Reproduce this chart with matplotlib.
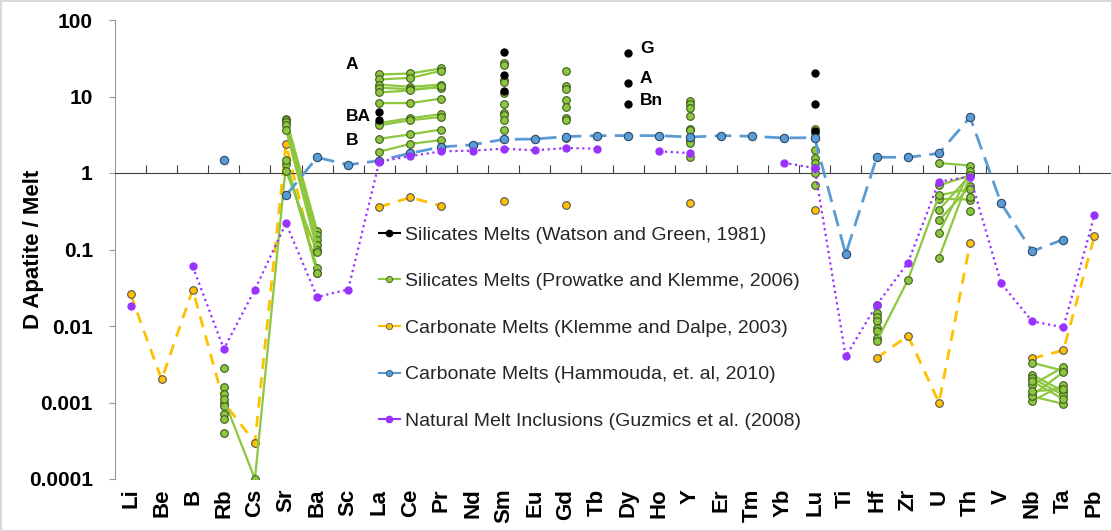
import numpy as np
import matplotlib.pyplot as plt
from matplotlib.lines import Line2D
from matplotlib.ticker import NullLocator

plt.rcParams['font.family'] = ['Liberation Sans', 'DejaVu Sans']

nan = np.nan
elements = ['Li', 'Be', 'B', 'Rb', 'Cs', 'Sr', 'Ba', 'Sc', 'La', 'Ce', 'Pr', 'Nd',
            'Sm', 'Eu', 'Gd', 'Tb', 'Dy', 'Ho', 'Y', 'Er', 'Tm', 'Yb', 'Lu', 'Ti',
            'Hf', 'Zr', 'U', 'Th', 'V', 'Nb', 'Ta', 'Pb']

# Klemme and Dalpe (2003), carbonate melts
klemme_dalpe = [0.026, 0.002, 0.03, 0.001, 0.0003, 2.4, 0.05, nan,
                0.36, 0.48, 0.37, nan, 0.43, nan, 0.38, nan,
                nan, nan, 0.40, nan, nan, nan, 0.33, nan,
                0.0038, 0.0075, 0.001, 0.12, nan, 0.0038, 0.0048, 0.15]

# Hammouda et al. (2010), carbonate melts
hammouda = [nan, nan, nan, 1.5, nan, 0.51, 1.6, 1.28,
            1.45, 1.82, 2.19, 2.34, 2.75, 2.78, 2.99, 3.08,
            3.08, 3.08, 2.95, 3.08, 3.02, 2.87, 2.9, 0.087,
            1.61, 1.6, 1.81, 5.36, 0.40, 0.095, 0.135, nan]

# Guzmics et al. (2008), natural melt inclusions
guzmics = [0.018, nan, 0.06, 0.005, 0.03, 0.22, 0.024, 0.03,
           1.41, 1.66, 1.92, 1.96, 2.08, 1.98, 2.12, 2.08,
           nan, 1.92, 1.82, nan, nan, 1.36, 1.16, 0.004,
           0.019, 0.067, 0.77, 0.9, 0.036, 0.0115, 0.0096, 0.28]

# Watson and Green (1981), silicate melts
watson_green = {
    'La': [6.3, 4.9],
    'Sm': [37.8, 19.0, 11.8],
    'Dy': [36.6, 15.1, 8.1],
    'Lu': [20.0, 8.1, 3.5],
}

# Prowatke and Klemme (2006), silicate melts: one entry per run
prowatke = {
    'Rb': [0.0016, 0.0013, 0.0009, 0.0011, 0.0007, 0.0028, 0.0006, 0.0004, nan, nan],
    'Cs': [nan, nan, nan, 0.0001, nan, nan, nan, nan, nan, nan],
    'Sr': [5.15, 4.9, 4.65, 1.3, 4.2, 3.7, 1.49, 1.06, nan, nan],
    'Ba': [0.177, 0.155, 0.134, 0.058, 0.116, 0.099, 0.049, 0.092, nan, nan],
    'La': [19.4, 16.7, 14.3, 13.0, 11.3, 8.2, 4.5, 4.2, 2.8, 1.9],
    'Ce': [20.0, 17.5, 13.4, 12.5, 12.0, 8.2, 5.2, 4.9, 3.2, 2.4],
    'Pr': [23.3, 21.7, 14.3, 13.1, 13.6, 9.4, 5.9, 5.4, 3.7, 2.7],
    'Sm': [27.6, 25.7, 16.4, 15.6, 11.1, 8.1, 6.1, 5.7, 5.0, 3.6],
    'Gd': [21.7, 13.6, 12.7, 8.9, 7.2, 5.3, 4.9, 2.9, nan, nan],
    'Y':  [8.7, 8.1, 7.0, 5.6, 3.8, 3.6, 2.95, 2.73, 2.47, 1.61],
    'Lu': [3.8, 3.3, 2.86, 2.0, 1.58, 1.35, 1.15, 1.0, 0.69, nan],
    'Hf': [0.019, 0.015, 0.013, 0.0115, 0.0095, 0.0085, 0.0069, 0.0063, nan, nan],
    'Zr': [nan, nan, nan, nan, nan, nan, nan, 0.04, nan, nan],
    'U':  [1.35, 0.69, 0.46, 0.33, 0.24, 0.165, 0.078, 0.51, nan, nan],
    'Th': [1.25, 0.93, 0.45, 0.93, 0.67, 1.06, 0.93, 0.62, 0.48, 0.32],
    'Nb': [0.0033, 0.0023, 0.0021, 0.0017, 0.00124, 0.00105, 0.0012, 0.0019, 0.0014, nan],
    'Ta': [0.0026, 0.0014, 0.00124, 0.0029, 0.0025, 0.0017, 0.00096, 0.0011, 0.0015, nan],
}

labels = ['Silicates Melts (Watson and Green, 1981)',
          'Silicates Melts (Prowatke and Klemme, 2006)',
          'Carbonate Melts (Klemme and Dalpe, 2003)',
          'Carbonate Melts (Hammouda, et. al, 2010)',
          'Natural Melt Inclusions (Guzmics et al. (2008)']

GREEN = '#8DC63F'
ORANGE = '#FFC000'
BLUE = '#5B9BD5'
PURPLE = '#9933FF'

x = np.arange(len(elements))
idx = {e: i for i, e in enumerate(elements)}

fig = plt.figure(figsize=(11.12, 5.31), dpi=100)
fig.patch.set_edgecolor('#d9d9d9')
fig.patch.set_linewidth(2)
ax = fig.add_axes([115 / 1112, 1 - 479 / 531, 995 / 1112, 459 / 531])
ax.set_yscale('log')
ax.set_ylim(1e-4, 100)
ax.set_xlim(-0.5, len(elements) - 0.5)

# carbonate melts, Klemme and Dalpe
ax.plot(x, klemme_dalpe, color=ORANGE, lw=2, ls=(0, (4, 3)), marker='o', ms=5.5,
        mfc=ORANGE, mec='#555555', mew=0.8, zorder=2)

# Prowatke and Klemme runs
n_runs = len(prowatke['La'])
runs = np.full((n_runs, len(elements)), np.nan)
for el, vals in prowatke.items():
    runs[:, idx[el]] = vals
for row in runs:
    ax.plot(x, row, color=GREEN, lw=1.6, marker='o', ms=5.5, mfc=GREEN,
            mec='#3d5c1e', mew=0.8, zorder=3)

# Watson and Green points
for el, vals in watson_green.items():
    ax.plot([idx[el]] * len(vals), vals, ls='none', marker='o', ms=5,
            color='black', zorder=4)

ax.plot(x, hammouda, color=BLUE, lw=2, ls=(0, (6, 3)), marker='o', ms=6,
        mfc=BLUE, mec='#2c4a66', mew=0.8, zorder=5)
ax.plot(x, guzmics, color=PURPLE, lw=1.6, ls=(0, (1, 1.6)), marker='o', ms=5,
        mfc=PURPLE, mec=PURPLE, zorder=6)

# sample labels beside the Watson and Green points
for txt, yv in zip(['A', 'BA', 'B'], [26.5, 5.5, 2.7]):
    ax.text(idx['La'] - 1.07, yv, txt, ha='left', va='center',
            fontsize=12.5, fontweight='bold')
for txt, yv in zip(['G', 'A', 'Bn'], [43, 17.4, 8.9]):
    ax.text(idx['Dy'] + 0.38, yv, txt, ha='left', va='center',
            fontsize=12.5, fontweight='bold')

# axes styling
for s in ['top', 'right']:
    ax.spines[s].set_visible(False)
ax.spines['left'].set_color('#999999')
ax.spines['bottom'].set_position(('data', 1))
ax.spines['bottom'].set_color('#404040')
ax.set_xticks(np.arange(0.5, len(elements) - 0.5, 1))
ax.set_xticklabels([])
ax.tick_params(axis='x', direction='in', length=6, color='#404040')

yt = [1e-4, 1e-3, 1e-2, 1e-1, 1, 10, 100]
ax.set_yticks(yt, ['0.0001', '0.001', '0.01', '0.1', '1', '10', '100'])
ax.yaxis.set_minor_locator(NullLocator())
ax.tick_params(axis='y', labelsize=15, length=4, pad=12, color='#999999')
for t in ax.get_yticklabels():
    t.set_fontweight('bold')
ax.set_ylabel('D Apatite / Melt', fontsize=16, fontweight='bold')
ax.yaxis.set_label_coords(-0.0714, 0.5)

sec = ax.secondary_xaxis(0)
sec.set_xticks(x, elements, rotation=90, fontsize=16, fontweight='bold')
sec.tick_params(length=0, pad=7)
sec.spines['bottom'].set_visible(False)

handles = [
    Line2D([], [], color='black', lw=1.5, marker='o', ms=4.5),
    Line2D([], [], color=GREEN, lw=1.5, marker='o', ms=4.5, mfc=GREEN, mec='#3d5c1e', mew=0.6),
    Line2D([], [], color=ORANGE, lw=1.5, marker='o', ms=4.5, mfc=ORANGE, mec='#555555', mew=0.6),
    Line2D([], [], color=BLUE, lw=1.5, marker='o', ms=4.5, mfc=BLUE, mec='#2c4a66', mew=0.6),
    Line2D([], [], color=PURPLE, lw=1.5, marker='o', ms=4.5, mfc=PURPLE, mec=PURPLE),
]
ax.legend(handles, labels, loc='upper left', bbox_to_anchor=(0.265, 0.551),
          frameon=False, fontsize=14, handlelength=1.1, handletextpad=0.25,
          labelspacing=1.49, borderpad=0, borderaxespad=0, labelcolor='#262626')

fig.savefig('out.png', dpi=100, edgecolor=fig.get_edgecolor())
